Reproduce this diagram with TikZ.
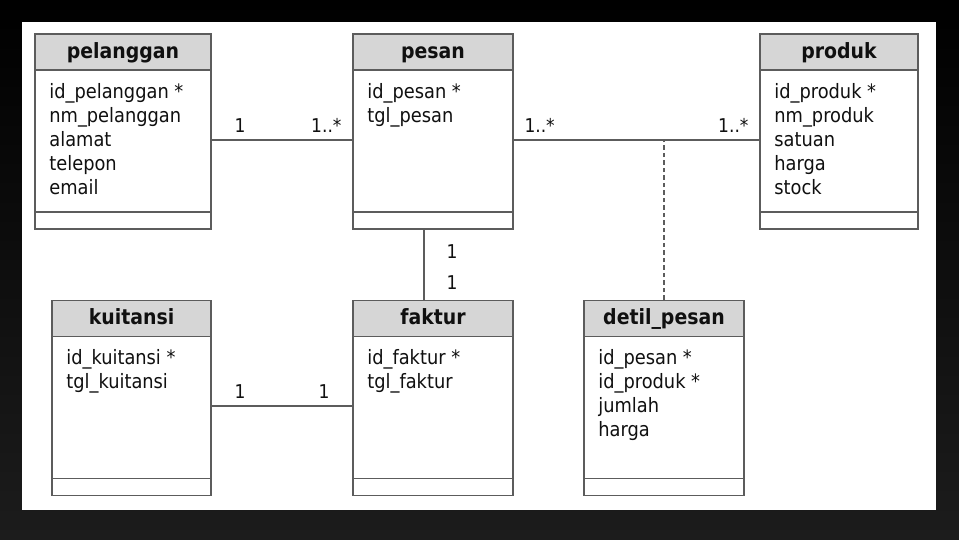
\documentclass[tikz,border=0pt]{standalone}
\usepackage{fontspec}
\setmainfont{DejaVu Sans Condensed}
\usetikzlibrary{positioning,calc}
\definecolor{Frame}{HTML}{5C5C5C}
\definecolor{Head}{HTML}{D6D6D6}
\definecolor{Ink}{HTML}{101010}
\definecolor{Shade}{HTML}{1C1C1C}
\tikzset{
  classbox/.style={draw=Frame,fill=white,line width=1.6pt,inner sep=0pt,minimum width=160,minimum height=195},
  headbox/.style={draw=Frame,fill=Head,line width=1.6pt,inner sep=0pt,minimum height=36,text height=16pt,text depth=4pt,font=\fontsize{21}{24}\selectfont\bfseries,text=Ink},
  attrbox/.style={anchor=north west,inner sep=0pt,align=left,font=\fontsize{19.8}{24}\selectfont,text=Ink},
  assoc/.style={draw=Frame,line width=1.4pt},
  dashline/.style={draw=Frame,line width=2pt,dash pattern=on 4.5pt off 3pt},
  mult/.style={inner sep=0pt,font=\fontsize{19}{22}\selectfont,text=Ink}
}
\begin{document}
\begin{tikzpicture}[x=1pt,y=-1pt]
  % frame
  \shade[top color=black,bottom color=Shade] (0,0) rectangle (959,539);
  \fill[white] (22,22) rectangle (936,510);
  % classes
  \node[classbox,minimum width=176] (pelanggan) at (123,131.5) {};
  \node[classbox] (pesan) at (433,131.5) {};
  \node[classbox,minimum width=158] (produk) at (839,131.5) {};
  \node[classbox,minimum width=159] (kuitansi) at (131.5,398) {};
  \node[classbox] (faktur) at (433,398) {};
  \node[classbox] (detil) at (664,398) {};
  % headers
  \node[headbox,minimum width=176,anchor=north] (pelanggan-h) at (pelanggan.north) {pelanggan};
  \node[headbox,minimum width=160,anchor=north] (pesan-h) at (pesan.north) {pesan};
  \node[headbox,minimum width=158,anchor=north] (produk-h) at (produk.north) {produk};
  \node[headbox,minimum width=159,anchor=north] (kuitansi-h) at (kuitansi.north) {kuitansi};
  \node[headbox,minimum width=160,anchor=north] (faktur-h) at (faktur.north) {faktur};
  \node[headbox,minimum width=160,anchor=north] (detil-h) at (detil.north) {detil\_pesan};
  % attributes
  \node[attrbox] (pelanggan-a) at ([xshift=15pt,yshift=-12pt]pelanggan-h.south west)
    {id\_pelanggan *\\nm\_pelanggan\\alamat\\telepon\\email};
  \node[attrbox] (pesan-a) at ([xshift=15pt,yshift=-12pt]pesan-h.south west)
    {id\_pesan *\\tgl\_pesan};
  \node[attrbox] (produk-a) at ([xshift=15pt,yshift=-12pt]produk-h.south west)
    {id\_produk *\\nm\_produk\\satuan\\harga\\stock};
  \node[attrbox] (kuitansi-a) at ([xshift=15pt,yshift=-12pt]kuitansi-h.south west)
    {id\_kuitansi *\\tgl\_kuitansi};
  \node[attrbox] (faktur-a) at ([xshift=15pt,yshift=-12pt]faktur-h.south west)
    {id\_faktur *\\tgl\_faktur};
  \node[attrbox] (detil-a) at ([xshift=15pt,yshift=-12pt]detil-h.south west)
    {id\_pesan *\\id\_produk *\\jumlah\\harga};
  % operation compartments
  \draw[assoc,line width=1.6pt] ([yshift=18pt]pelanggan.south west) -- ([yshift=18pt]pelanggan.south east);
  \draw[assoc,line width=1.6pt] ([yshift=18pt]pesan.south west) -- ([yshift=18pt]pesan.south east);
  \draw[assoc,line width=1.6pt] ([yshift=18pt]produk.south west) -- ([yshift=18pt]produk.south east);
  \draw[assoc,line width=1.6pt] ([yshift=18pt]kuitansi.south west) -- ([yshift=18pt]kuitansi.south east);
  \draw[assoc,line width=1.6pt] ([yshift=18pt]faktur.south west) -- ([yshift=18pt]faktur.south east);
  \draw[assoc,line width=1.6pt] ([yshift=18pt]detil.south west) -- ([yshift=18pt]detil.south east);
  % associations
  \draw[assoc] ([yshift=-8.5pt]pelanggan.east) -- ([yshift=-8.5pt]pesan.west)
    node[mult,pos=0,anchor=base west,xshift=22pt,yshift=8pt] {1}
    node[mult,pos=1,anchor=base east,xshift=-10pt,yshift=8pt] {1..*};
  \draw[assoc] ([yshift=-8.5pt]pesan.east) coordinate (pesan-r) -- ([yshift=-8.5pt]produk.west)
    node[mult,pos=0,anchor=base west,xshift=10pt,yshift=8pt] {1..*}
    node[mult,pos=1,anchor=base east,xshift=-10pt,yshift=8pt] {1..*};
  \draw[dashline] (detil.north) -- (detil.north |- pesan-r);
  \draw[assoc] ([xshift=-9pt]pesan.south) -- ([xshift=-9pt]faktur.north)
    node[mult,pos=0,anchor=north west,xshift=22pt,yshift=-14pt] {1}
    node[mult,pos=1,anchor=south west,xshift=22pt,yshift=10pt] {1};
  \draw[assoc] ([yshift=-8pt]kuitansi.east) -- ([yshift=-8pt]faktur.west)
    node[mult,pos=0,anchor=base west,xshift=22pt,yshift=8pt] {1}
    node[mult,pos=1,anchor=base east,xshift=-22pt,yshift=8pt] {1};
\end{tikzpicture}
\end{document}
